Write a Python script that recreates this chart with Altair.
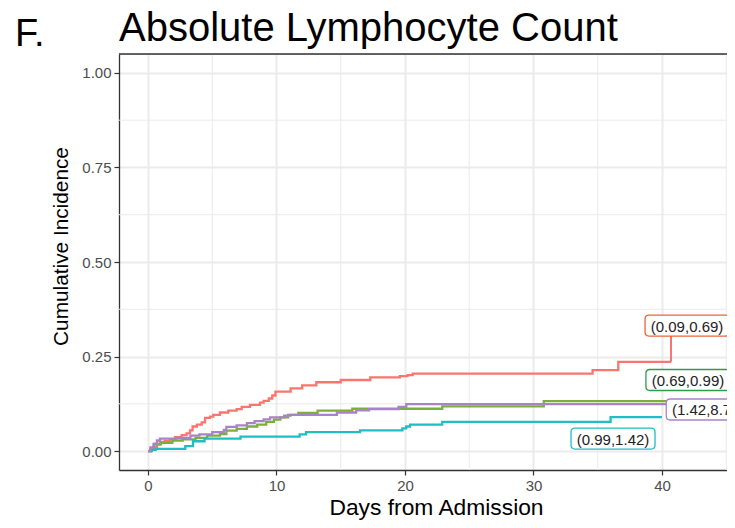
import altair as alt
import pandas as pd

FONT = "Liberation Sans"

groups = ["(0.09,0.69)", "(0.69,0.99)", "(0.99,1.42)", "(1.42,8.77)"]
line_colors = ["#F8766D", "#7CAE3A", "#1FBEC3", "#A983C9"]
box_colors = ["#F0623A", "#2E9B4F", "#1FBEC3", "#A983C9"]

red_days = [0, 0.2, 0.4, 0.7, 0.93, 1.3, 1.71, 2.1, 2.62, 3.0, 3.27, 3.47, 3.8, 4.18,
            4.44, 4.83, 5.08, 5.6, 6.25, 6.9, 7.29, 7.94, 8.72, 9.0, 9.4, 9.67, 9.92,
            11.1, 12.0, 13.1, 15.0, 17.3, 19.6, 20.2, 20.6, 34.6, 36.6, 40.7]
red_vals = [0, 0.005, 0.011, 0.018, 0.024, 0.027, 0.031, 0.037, 0.042, 0.047, 0.055, 0.065,
            0.07, 0.076, 0.088, 0.091, 0.096, 0.102, 0.107, 0.111, 0.117, 0.122, 0.128,
            0.133, 0.139, 0.147, 0.157, 0.166, 0.174, 0.182, 0.188, 0.195, 0.198, 0.201,
            0.205, 0.214, 0.236, 0.236]

green_days = [0, 0.2, 0.45, 1.0, 1.9, 2.7, 3.7, 4.6, 5.6, 6.1, 6.9, 7.7, 8.5, 9.2, 9.8,
              10.3, 10.9, 11.7, 13.2, 15.9, 22.9, 30.8, 40.6]
green_vals = [0, 0.008, 0.018, 0.022, 0.028, 0.031, 0.035, 0.041, 0.045, 0.054, 0.059,
              0.065, 0.07, 0.077, 0.083, 0.089, 0.096, 0.101, 0.107, 0.112, 0.118, 0.132,
              0.132]

cyan_days = [0, 0.3, 0.6, 2.9, 3.5, 4.4, 7.2, 11.8, 12.3, 16.5, 19.8, 20.1, 20.4, 22.9,
             36.0, 40.0]
cyan_vals = [0, 0.003, 0.006, 0.013, 0.026, 0.033, 0.038, 0.044, 0.05, 0.055, 0.06, 0.065,
             0.07, 0.077, 0.09, 0.09]

purple_days = [0, 0.2, 0.45, 0.7, 0.93, 2.2, 3.3, 4.0, 5.0, 5.9, 6.1, 6.9, 7.7, 8.3, 9.0,
               9.5, 10.6, 11.1, 14.7, 16.2, 17.2, 19.5, 20.1, 40.6]
purple_vals = [0, 0.01, 0.02, 0.028, 0.033, 0.035, 0.041, 0.044, 0.05, 0.056, 0.064, 0.068,
               0.074, 0.079, 0.084, 0.089, 0.094, 0.096, 0.102, 0.108, 0.111, 0.117, 0.124,
               0.124]

# label positions (days, cumulative incidence)
label_days = [41.95, 42.02, 36.19, 43.6]
label_vals = [0.332, 0.188, 0.033, 0.110]

# connector segment of the first label
seg_day = [40.7]
seg_from = [0.236]
seg_to = [0.304]

x_major = [0, 10, 20, 30, 40]
x_minor = [5, 15, 25, 35, 45]
y_major = [0, 0.25, 0.5, 0.75, 1.0]
y_minor = [0.125, 0.375, 0.625, 0.875]

series = [(red_days, red_vals), (green_days, green_vals),
          (cyan_days, cyan_vals), (purple_days, purple_vals)]
rows = []
for g, (ds, vs) in zip(groups, series):
    assert len(ds) == len(vs)
    for i, (d, v) in enumerate(zip(ds, vs)):
        rows.append({"group": g, "day": d, "value": v, "ord": i})
df = pd.DataFrame(rows)

df_lab = pd.DataFrame({"group": groups, "day": label_days, "value": label_vals})
df_seg = pd.DataFrame({"day": seg_day, "y1": seg_from, "y2": seg_to})

W, H = 608, 416
xs = alt.Scale(domain=[-2.257, 45.06], nice=False, zero=False)
ys = alt.Scale(domain=[-0.05, 1.05], nice=False, zero=False)

grid_col = "#EBEBEB"

x_axis = alt.Axis(values=x_major, grid=True, gridColor=grid_col, gridWidth=2,
                  domainColor="#333333", domainWidth=1.3, tickColor="#333333",
                  tickWidth=1.2, tickSize=5, labelFont=FONT, labelFontSize=15,
                  labelColor="#4D4D4D", labelPadding=3, title="Days from Admission",
                  titleFont=FONT, titleFontSize=22.8, titleFontWeight="normal",
                  titleColor="#000000", titleX=317, titlePadding=3)
y_axis = alt.Axis(values=y_major, format=".2f", grid=True, gridColor=grid_col,
                  gridWidth=2, domainColor="#333333", domainWidth=1.3,
                  tickColor="#333333", tickWidth=1.2, tickSize=5, labelFont=FONT,
                  labelFontSize=15, labelColor="#4D4D4D", labelPadding=3,
                  title="Cumulative Incidence", titleFont=FONT, titleFontSize=20.8,
                  titleFontWeight="normal", titleColor="#000000", titlePadding=10,
                  titleY=192)

xminor = alt.Chart(pd.DataFrame({"gx": x_minor})).mark_rule(
    color=grid_col, strokeWidth=1).encode(x=alt.X("gx:Q", scale=xs, axis=x_axis))
yminor = alt.Chart(pd.DataFrame({"gy": y_minor})).mark_rule(
    color=grid_col, strokeWidth=1).encode(y=alt.Y("gy:Q", scale=ys, axis=y_axis))

color_scale = alt.Scale(domain=groups, range=line_colors)

lines = alt.Chart(df).mark_line(interpolate="step-after", strokeWidth=2.3).encode(
    x=alt.X("day:Q", scale=xs),
    y=alt.Y("value:Q", scale=ys),
    color=alt.Color("group:N", scale=color_scale, legend=None),
    order="ord:Q",
)

seg = alt.Chart(df_seg).mark_rule(color=line_colors[0], strokeWidth=2).encode(
    x=alt.X("day:Q", scale=xs), y=alt.Y("y1:Q", scale=ys), y2="y2:Q")

box_path = ("M -0.905 -0.25 L 0.905 -0.25 Q 1 -0.25 1 -0.155 L 1 0.155 "
            "Q 1 0.25 0.905 0.25 L -0.905 0.25 Q -1 0.25 -1 0.155 L -1 -0.155 "
            "Q -1 -0.25 -0.905 -0.25 Z")
boxes = alt.Chart(df_lab).mark_point(
    shape=box_path, size=84 * 84, filled=True, color="white", opacity=1,
    strokeWidth=1.3).encode(
    x=alt.X("day:Q", scale=xs), y=alt.Y("value:Q", scale=ys),
    stroke=alt.Stroke("group:N", scale=alt.Scale(domain=groups, range=box_colors),
                      legend=None),
)
texts = alt.Chart(df_lab).mark_text(font=FONT, fontSize=15, color="#222222",
                                    baseline="middle", dy=1).encode(
    x=alt.X("day:Q", scale=xs), y=alt.Y("value:Q", scale=ys), text="group:N")

top_border = alt.Chart(pd.DataFrame({"a": [0]})).mark_rule(
    color="#333333", strokeWidth=1.3).encode(
    x=alt.value(0), x2=alt.value(W), y=alt.value(0))

title = alt.Chart(pd.DataFrame({"t": ["Absolute Lymphocyte Count"]})).mark_text(
    font=FONT, fontSize=40, align="left", baseline="alphabetic", color="#000000").encode(
    text="t:N", x=alt.value(0), y=alt.value(-13))
panel = alt.Chart(pd.DataFrame({"t": ["F."]})).mark_text(
    font=FONT, fontSize=38, align="left", baseline="alphabetic", color="#000000").encode(
    text="t:N", x=alt.value(-104), y=alt.value(-8))

chart = alt.layer(xminor, yminor, lines, seg, boxes, texts, top_border, title, panel).properties(
    width=W, height=H,
    autosize=alt.AutoSizeParams(type="none"),
    padding={"left": 111, "top": 46, "right": 0, "bottom": 50},
).configure_view(stroke=None).configure(background="white")

chart.save("out.html", embed_options={"renderer": "svg", "actions": False})
